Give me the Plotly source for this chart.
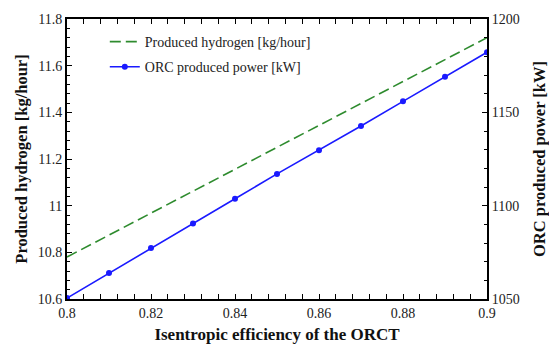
import plotly.graph_objects as go

efficiency = [0.80, 0.81, 0.82, 0.83, 0.84, 0.85, 0.86, 0.87, 0.88, 0.89, 0.90]
hydrogen = [10.78, 10.874, 10.968, 11.062, 11.156, 11.25, 11.344, 11.438, 11.532, 11.626, 11.72]
power = [1050.5, 1063.9, 1077.3, 1090.5, 1103.7, 1117.0, 1129.7, 1142.7, 1155.9, 1169.1, 1182.2]

FONT = "Liberation Serif"

fig = go.Figure()
fig.add_trace(go.Scatter(
    x=efficiency, y=hydrogen, mode="lines", name="Produced hydrogen [kg/hour]",
    line=dict(color="#2e8b2e", width=1.6, dash="11px,5px"),
    legendgroup="a", yaxis="y"))
fig.add_trace(go.Scatter(
    x=efficiency, y=power, mode="lines+markers", name="ORC produced power [kW]",
    line=dict(color="#1a1aff", width=1.6),
    marker=dict(color="#1a1aff", size=6),
    legendgroup="b", yaxis="y2"))

axis_common = dict(
    showgrid=False, zeroline=False, showline=True, linecolor="black", linewidth=2,
    ticks="inside", ticklen=5, tickcolor="black", tickwidth=1, automargin=False,
    tickfont=dict(family=FONT, size=14, color="#222"),
)

fig.update_layout(
    width=549, height=349,
    margin=dict(l=67, r=62, t=19, b=50),
    paper_bgcolor="white", plot_bgcolor="white",
    font=dict(family=FONT, color="black"),
    showlegend=True,
    legend=dict(x=0.09, y=0.975, xanchor="left", yanchor="top",
                bgcolor="rgba(0,0,0,0)", font=dict(family=FONT, size=14, color="#222"),
                tracegroupgap=4),
    xaxis=dict(**axis_common, range=[0.8, 0.9], dtick=0.02, tick0=0.8,
               mirror="allticks",
               minor=dict(dtick=0.004, ticks="inside", ticklen=3, tickcolor="black"),
               title=dict(text="<b>Isentropic efficiency of the ORCT</b>",
                          font=dict(family=FONT, size=17, color="#111"), standoff=8)),
    yaxis=dict(**axis_common, range=[10.6, 11.8], dtick=0.2, tick0=10.6,
               tickformat="~g",
               minor=dict(dtick=0.04, ticks="inside", ticklen=3, tickcolor="black"),
               title=dict(text="<b>Produced hydrogen [kg/hour]</b>",
                          font=dict(family=FONT, size=16.5, color="#111"), standoff=6)),
    yaxis2=dict(**axis_common, range=[1050, 1200], dtick=50, overlaying="y", side="right",
                minor=dict(dtick=10, ticks="inside", ticklen=3, tickcolor="black"),
                title=dict(text="<b>ORC produced power [kW]</b>",
                           font=dict(family=FONT, size=16.5, color="#111"), standoff=18)),
)

fig.write_html("out.html")
